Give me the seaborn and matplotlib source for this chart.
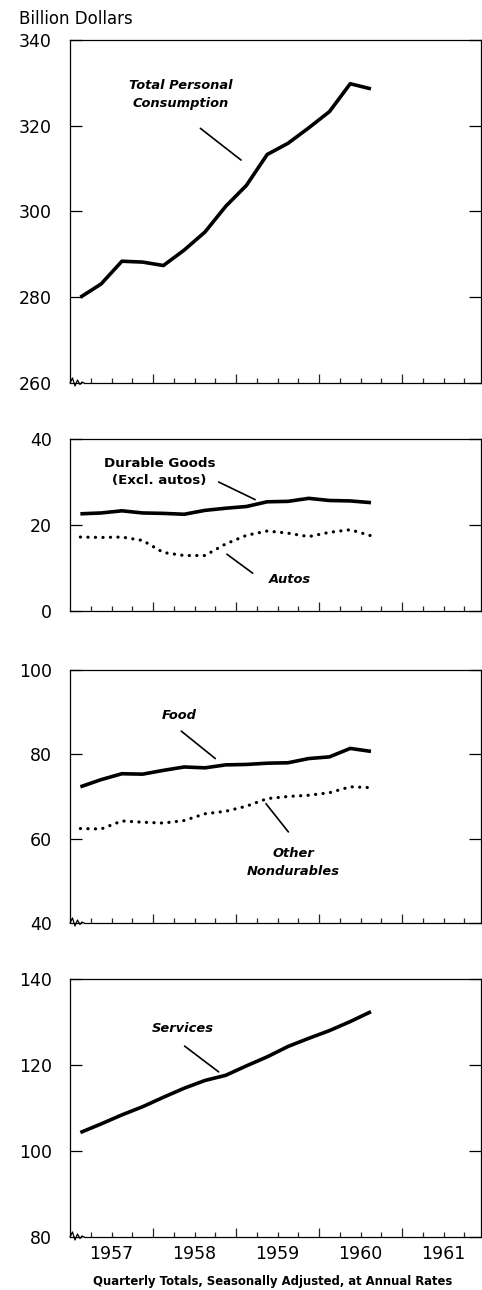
import matplotlib
matplotlib.use('Agg')
import matplotlib.pyplot as plt
import matplotlib.transforms as mtransforms
import pandas as pd
import seaborn as sns

sns.set_theme(style='ticks')
plt.rcParams['font.family'] = ['DejaVu Sans']
plt.rcParams['text.color'] = 'black'

# quarterly observations, 1957 Q1 through 1960 Q3
quarters = ['1957Q1', '1957Q2', '1957Q3', '1957Q4',
            '1958Q1', '1958Q2', '1958Q3', '1958Q4',
            '1959Q1', '1959Q2', '1959Q3', '1959Q4',
            '1960Q1', '1960Q2', '1960Q3']

total = [280.0, 283.1, 288.4, 288.2, 287.4, 291.0, 295.2, 301.2,
         306.1, 313.3, 315.9, 319.5, 323.3, 329.8, 328.6]
durables = [22.6, 22.8, 23.3, 22.8, 22.7, 22.5, 23.4, 23.9,
            24.3, 25.4, 25.5, 26.2, 25.7, 25.6, 25.2]
autos = [17.2, 17.1, 17.2, 16.4, 13.6, 12.9, 12.9, 15.6,
         17.6, 18.6, 18.1, 17.3, 18.3, 18.9, 17.5]
food = [72.3, 74.0, 75.4, 75.3, 76.2, 77.0, 76.8, 77.5,
        77.6, 77.9, 78.0, 79.0, 79.4, 81.4, 80.7]
other_nondur = [62.4, 62.3, 64.2, 63.9, 63.7, 64.3, 65.9, 66.5,
                67.7, 69.5, 70.0, 70.3, 70.9, 72.3, 72.1]
services = [104.3, 106.3, 108.4, 110.3, 112.5, 114.6, 116.4, 117.6,
            119.8, 121.9, 124.3, 126.2, 128.0, 130.1, 132.4]

years = ['1957', '1958', '1959', '1960', '1961']


def quarter_pos(q):
    # centre of the quarter on a decimal-year axis
    yr, qn = q.split('Q')
    return int(yr) + (int(qn) - 0.5) / 4


df = pd.DataFrame({'x': [quarter_pos(q) for q in quarters],
                   'total': total, 'durables': durables, 'autos': autos,
                   'food': food, 'other': other_nondur, 'services': services})

W, H = 482, 1290
fig = plt.figure(figsize=(W / 100, H / 100), dpi=100)


def make_ax(top, bottom):
    ax = fig.add_axes([70 / W, 1 - bottom / H, 411 / W, (bottom - top) / H])
    ax._hpx = bottom - top
    return ax


ax1 = make_ax(40, 383)
ax2 = make_ax(439, 611)
ax3 = make_ax(670, 923)
ax4 = make_ax(979, 1237)

SOLID = dict(color='black', linewidth=2.6, solid_capstyle='butt')
DOTS = dict(color='black', linewidth=2.3, linestyle=(0, (0.05, 2.3)),
            dash_capstyle='round')

sns.lineplot(data=df, x='x', y='total', ax=ax1, **SOLID)
sns.lineplot(data=df, x='x', y='durables', ax=ax2, **SOLID)
sns.lineplot(data=df, x='x', y='autos', ax=ax2, **DOTS)
sns.lineplot(data=df, x='x', y='food', ax=ax3, **SOLID)
sns.lineplot(data=df, x='x', y='other', ax=ax3, **DOTS)
sns.lineplot(data=df, x='x', y='services', ax=ax4, **SOLID)

x0 = int(years[0])
x1 = int(years[-1]) + 0.95
year_edges = [int(y) for y in years[1:]]
quarter_ticks = [int(y) + f for y in years for f in (0.25, 0.5, 0.75)]
year_mid_labels = [y if f == 0.5 else '' for y in years for f in (0.25, 0.5, 0.75)]

limits = [(ax1, 260, 340, True), (ax2, 0, 40, False),
          (ax3, 40, 100, True), (ax4, 80, 140, True)]
for ax, lo, hi, broken in limits:
    ax.set_xlim(x0, x1)
    ax.set_ylim(lo, hi)
    ax.set_yticks(range(lo, hi + 1, 20))
    ax.set_xticks(year_edges)
    ax.set_xticklabels([])
    ax.set_xticks(quarter_ticks, minor=True)
    ax.set_xlabel('')
    ax.set_ylabel('')
    ax.tick_params(axis='y', direction='in', length=8.5, width=0.9,
                   right=True, labelright=False, labelsize=12.5, pad=13,
                   colors='black')
    ax.tick_params(axis='x', which='major', direction='in', length=6.5, width=0.9)
    ax.tick_params(axis='x', which='minor', direction='in', length=3.5, width=0.9)
    for s in ax.spines.values():
        s.set_color('black')
        s.set_linewidth(0.9)
    if broken:
        # small axis-break squiggle at the lower left corner (amplitude in pixels)
        ax.spines['bottom'].set_bounds(x0 + 0.17, x1)
        tr = mtransforms.blended_transform_factory(ax.transData, ax.transAxes)
        wx = [x0, x0 + 0.03, x0 + 0.06, x0 + 0.09, x0 + 0.12, x0 + 0.145, x0 + 0.17]
        wy = [0, 5, -3, 3, -1.5, 1, 0]
        ax.plot(wx, [v / ax._hpx for v in wy], transform=tr, color='black',
                lw=0.9, clip_on=False)

ax4.set_xticklabels(year_mid_labels, minor=True)
ax4.tick_params(axis='x', which='minor', pad=6, labelsize=12.5, labelcolor='black')

LAB = dict(fontsize=9.4, fontweight='bold', fontstyle='italic', ha='center',
           va='center', linespacing=1.5, color='black')
LEAD = dict(color='black', lw=1.2)

ax1.text(1958.33, 327.2, 'Total Personal\nConsumption', **LAB)
ax1.plot([1958.57, 1959.06], [319.4, 312.0], **LEAD)

ax2.text(1958.08, 32.3, 'Durable Goods\n(Excl. autos)', fontsize=9.6,
         fontweight='bold', ha='center', va='center', linespacing=1.4,
         color='black')
ax2.plot([1958.79, 1959.23], [30.0, 25.9], **LEAD)
ax2.text(1959.65, 7.4, 'Autos', **LAB)
ax2.plot([1958.89, 1959.20], [13.2, 8.8], **LEAD)

ax3.text(1958.31, 89.1, 'Food', **LAB)
ax3.plot([1958.34, 1958.75], [85.5, 79.0], **LEAD)
ax3.text(1959.69, 54.4, 'Other\nNondurables', **LAB)
ax3.plot([1959.36, 1959.63], [68.3, 61.6], **LEAD)

ax4.text(1958.36, 128.5, 'Services', **LAB)
ax4.plot([1958.38, 1958.79], [124.4, 118.4], **LEAD)

fig.text(19 / W, 1 - 19 / H, 'Billion Dollars', fontsize=12, ha='left', va='center',
         color='black')
fig.text(273 / W, 1 - 1281 / H, 'Quarterly Totals, Seasonally Adjusted, at Annual Rates',
         fontsize=8.4, fontweight='bold', ha='center', va='center', color='black')

fig.savefig('out.png', dpi=100, facecolor='white')
